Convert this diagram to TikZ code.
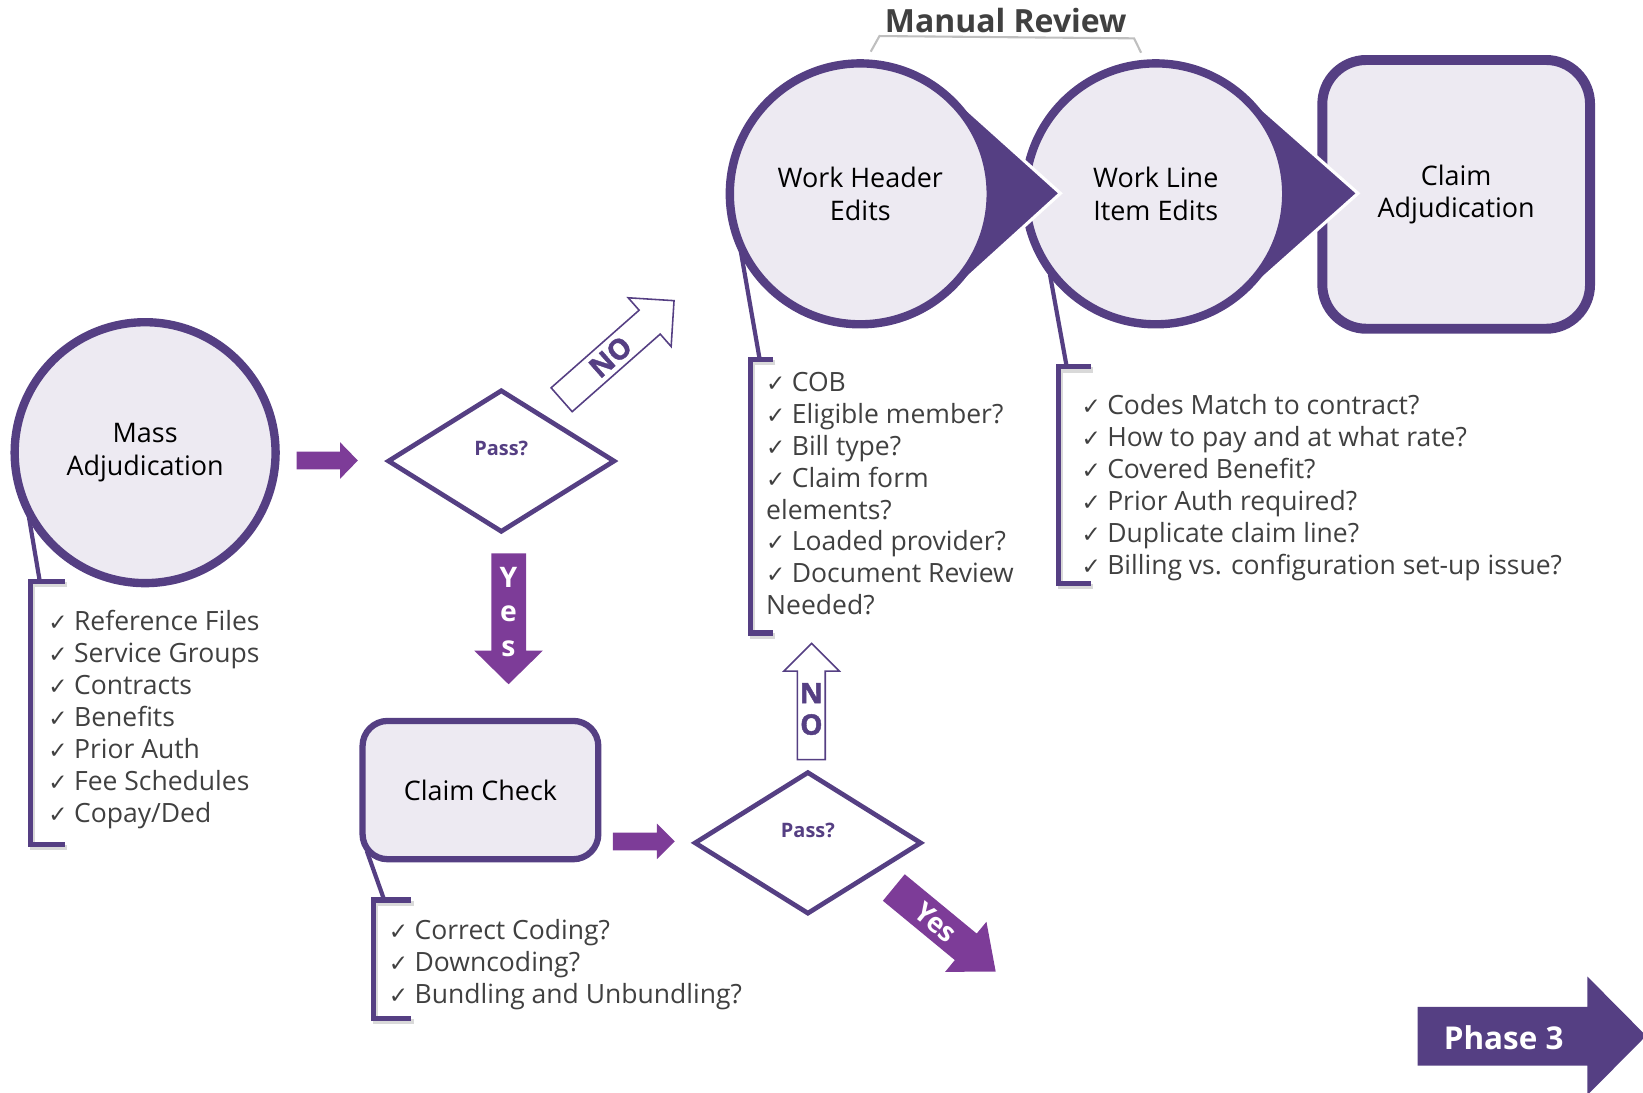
\documentclass[tikz,border=0pt]{standalone}
\usepackage{fontspec}
\setmainfont{Open Sans}
\newfontfamily\symf{DejaVu Sans}
\newfontfamily\heavyf{Open Sans}[BoldFeatures={FakeBold=1.5}]
\usetikzlibrary{shapes.geometric,calc}
\definecolor{dpurple}{HTML}{553F83}
\definecolor{bpurple}{HTML}{7D3C98}
\definecolor{lav}{HTML}{EDEAF2}
\definecolor{txtg}{HTML}{404040}
\definecolor{gline}{HTML}{BFBFBF}
\newcommand{\chk}{\makebox[24.5pt][l]{\symf\fontsize{22}{22}\selectfont ✓}}
\newcommand{\lblfont}{\fontsize{25.7}{31}\selectfont}
\newcommand{\itmfont}{\fontsize{25.3}{30}\selectfont}
\tikzset{
 circnode/.style={circle, draw=dpurple, fill=lav, line width=8pt, minimum size=249pt, inner sep=0pt, align=center, font=\lblfont, text=black},
 boxnode/.style={rectangle, draw=dpurple, fill=lav, align=center, font=\lblfont, text=black, inner sep=0pt},
 tailpoly/.style={fill=dpurple, draw=white, line width=3pt, line join=miter},
 callout/.style={draw=dpurple, line width=4pt},
 bracketline/.style={draw=dpurple, line width=5pt, line join=miter},
 bshadow/.style={draw=black, opacity=0.15, line width=5pt, line join=miter},
 item/.style={anchor=base west, inner sep=0pt, text=txtg, font=\itmfont},
 decision/.style={diamond, draw=dpurple, fill=white, line width=4.5pt, inner sep=0pt, minimum width=217pt, minimum height=136pt},
 passlbl/.style={font=\bfseries\fontsize{19}{19}\selectfont, text=dpurple},
 solidarr/.style={fill=bpurple},
 hollowarr/.style={draw=dpurple, fill=white, line width=1.5pt, line join=miter},
 arrtxt/.style={font=\bfseries\fontsize{27}{27}\selectfont, inner sep=0pt},
 heavytxt/.style={font=\heavyf\bfseries\fontsize{27}{27}\selectfont, inner sep=0pt},
}
\begin{document}
\begin{tikzpicture}[x=1pt,y=-1pt]
\useasboundingbox (0,0) rectangle (1568,1043);

% ---------- Manual Review title ----------
\node[font=\bfseries\fontsize{30.5}{31}\selectfont, text=txtg, anchor=base] (mr) at (959.8,30.9) {Manual Review};
\coordinate (mrl) at (831,49.3);
\coordinate (mrr) at (1089,50.3);
\draw[gline, line width=2pt] (mrl) -- (839.3,34.4) -- (1082.3,36.6) -- (mrr);

% ---------- callout lines and brackets (under shapes) ----------
\draw[callout] (26,484) -- (38,555);
\draw[bshadow] (64,558) -- (31,558) -- (31,809) -- (64,809);
\draw[bracketline] (62,555) -- (29,555) -- (29,806) -- (62,806);

\draw[callout] (707,240) -- (725,343);
\draw[bshadow] (740,346) -- (718,346) -- (718,607) -- (740,607);
\draw[bracketline] (738,343) -- (716,343) -- (716,604) -- (738,604);

\draw[callout] (1002,262) -- (1018,350);
\draw[bshadow] (1043,353) -- (1012,353) -- (1012,560) -- (1043,560);
\draw[bracketline] (1041,350) -- (1010,350) -- (1010,557) -- (1041,557);

\draw[callout] (350,812) -- (366.7,859);
\draw[bshadow] (395,862) -- (358.5,862) -- (358.5,975) -- (395,975);
\draw[bracketline] (392.7,859) -- (356.5,859) -- (356.5,972) -- (392.7,972);

% ---------- top row shapes ----------
\node[boxnode, rounded corners=42pt, line width=9.5pt, minimum width=255.5pt, minimum height=256.5pt] (ca) at (1389.7,185.5) {Claim\\Adjudication};

\coordinate (wlc) at (1103,185);
\filldraw[tailpoly] (1296,184.5) -- ($(wlc)+(47.1:128)$) -- (wlc) -- ($(wlc)+(-47.1:128)$) -- cycle;
\node[circnode] (wl) at (wlc) {Work Line\\Item Edits};

\coordinate (whc) at (821,185);
\filldraw[tailpoly] (1012,184.5) -- ($(whc)+(47.6:128)$) -- (whc) -- ($(whc)+(-47.6:128)$) -- cycle;
\node[circnode] (wh) at (whc) {Work Header\\Edits};

% ---------- left part ----------
\node[circnode] (mass) at (138.5,432) {Mass\\Adjudication};

\node[decision] (p1) at (478.4,440) {};
\node[passlbl] (p1l) at (478.4,428.3) {Pass?};

\node[boxnode, rounded corners=24pt, line width=6pt, minimum width=225pt, minimum height=132pt] (cc) at (458.5,754) {Claim Check};

\node[decision] (p2) at (771,804.4) {};
\node[passlbl] (p2l) at (771,792.8) {Pass?};

% ---------- block arrows ----------
\fill[solidarr] (283,431) -- (324.5,431) -- (324.5,422) -- (341.5,439.5) -- (324.5,457) -- (324.5,448) -- (283,448) -- cycle;
\fill[solidarr] (585,794.5) -- (627,794.5) -- (627,786) -- (644,803) -- (627,820) -- (627,811.5) -- (585,811.5) -- cycle;

% Yes down
\fill[solidarr] (469,528) -- (502,528) -- (502,621) -- (518,621) -- (485.3,653) -- (452.7,621) -- (469,621) -- cycle;
\node[arrtxt, text=white] (y1) at (485.3,551) {Y};
\node[arrtxt, text=white] (y2) at (485.3,585.5) {e};
\node[arrtxt, text=white] (y3) at (485.3,619) {s};

% NO up (hollow)
\filldraw[hollowarr] (761,725) -- (761,640.5) -- (748,640.5) -- (774.5,614) -- (801,640.5) -- (787.6,640.5) -- (787.6,725) -- cycle;
\node[heavytxt, text=dpurple] (n1) at (774.3,661.5) {N};
\node[heavytxt, text=dpurple] (n2) at (774.3,691.5) {O};

% NO diagonal (hollow)
\begin{scope}[shift={(536,381.5)}, rotate=41.4]
\filldraw[hollowarr] (0,-15.2) -- (112,-15.2) -- (112,-31) -- (143,0) -- (112,31) -- (112,15.2) -- (0,15.2) -- cycle;
\node[heavytxt, text=dpurple, rotate=41.4] (nod) at (62,0) {NO};
\end{scope}

% Yes diagonal (solid)
\begin{scope}[shift={(853,847)}, rotate=-39.5]
\fill[solidarr] (0,-16.4) -- (89,-16.4) -- (89,-31) -- (126,0) -- (89,31) -- (89,16.4) -- (0,16.4) -- cycle;
\node[arrtxt, text=white, font=\bfseries\fontsize{26}{26}\selectfont, rotate=-39.5] (yd) at (52,0) {Yes};
\end{scope}

% ---------- Phase 3 ----------
\fill[dpurple] (1353,961) -- (1515,961) -- (1515,932) -- (1571,988.5) -- (1515,1045) -- (1515,1017) -- (1353,1017) -- cycle;
\node[font=\bfseries\fontsize{30}{30}\selectfont, text=white] (ph) at (1435,990) {Phase 3};

% ---------- lists ----------
\foreach \t [count=\i from 0] in {Reference Files,Service Groups,Contracts,Benefits,Prior Auth,Fee Schedules,Copay/Ded}
  \node[item] (ma\i) at (46,602+30.5*\i) {\chk\t};

\foreach \t [count=\i from 0] in {\chk COB,\chk Eligible member?,\chk Bill type?,\chk Claim form,elements?,\chk Loaded provider?,\chk Document Review,Needed?}
  \node[item] (wh\i) at (731,373.8+30.4*\i) {\t};

\foreach \t [count=\i from 0] in {Codes Match to contract?,How to pay and at what rate?,Covered Benefit?,Prior Auth required?,Duplicate claim line?,Billing vs. configuration set-up issue?}
  \node[item] (wli\i) at (1032,396+30.4*\i) {\chk\t};

\foreach \t [count=\i from 0] in {Correct Coding?,Downcoding?,Bundling and Unbundling?}
  \node[item] (cci\i) at (371,897+30.4*\i) {\chk\t};
\end{tikzpicture}
\end{document}
